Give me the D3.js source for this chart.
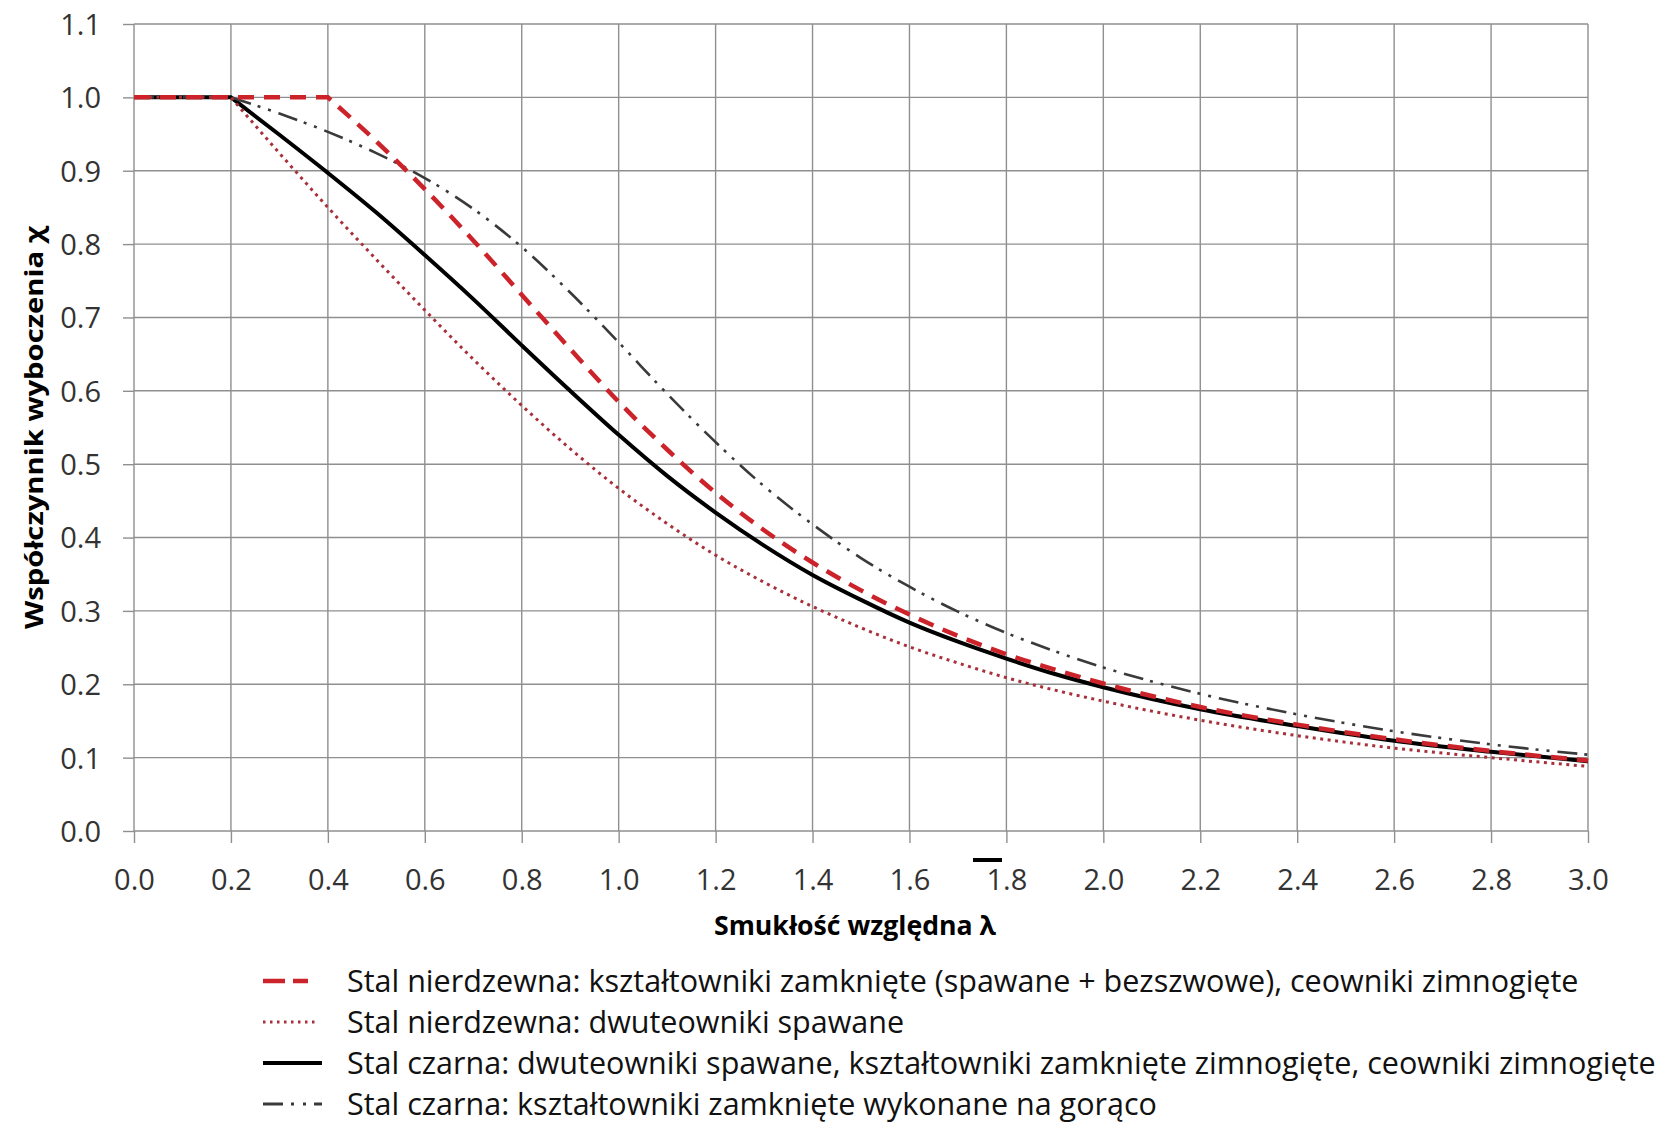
<!DOCTYPE html>
<html>
<head>
<meta charset="utf-8">
<script src="https://cdn.jsdelivr.net/npm/d3@7"></script>
<style>
  body { margin: 0; background: #fff; }
  svg { display: block; }
  text { font-family: "Open Sans", Lato, sans-serif; }
</style>
</head>
<body>
<div id="container"></div>
<script>
/* DATA */
// relative slenderness λ
const lambdaVals = [0, 0.2, 0.3, 0.4, 0.5, 0.6, 0.7, 0.8, 0.9, 1.0, 1.1, 1.2, 1.3, 1.4, 1.5,
  1.6, 1.7, 1.8, 1.9, 2.0, 2.2, 2.4, 2.6, 2.8, 3.0];

// buckling factor χ for each series
const stainlessClosed = [1, 1, 1, 1, 0.940, 0.875, 0.805, 0.731, 0.657, 0.585, 0.520, 0.461, 0.410,
  0.366, 0.328, 0.295, 0.266, 0.241, 0.220, 0.201, 0.169, 0.145, 0.125, 0.109, 0.096];
const stainlessWeldedI = [1, 1, 0.924, 0.850, 0.779, 0.710, 0.643, 0.580, 0.521, 0.467, 0.419, 0.376,
  0.339, 0.306, 0.277, 0.251, 0.229, 0.209, 0.192, 0.177, 0.151, 0.130, 0.113, 0.100, 0.088];
const carbonWelded = [1, 1, 0.949, 0.897, 0.843, 0.785, 0.725, 0.662, 0.600, 0.540, 0.484, 0.434,
  0.389, 0.349, 0.315, 0.284, 0.258, 0.235, 0.214, 0.196, 0.166, 0.143, 0.123, 0.108, 0.095];
const carbonHotFinished = [1, 1, 0.978, 0.953, 0.924, 0.890, 0.848, 0.796, 0.734, 0.666, 0.596, 0.530,
  0.470, 0.418, 0.372, 0.333, 0.299, 0.270, 0.245, 0.223, 0.187, 0.159, 0.136, 0.118, 0.104];

const legendLabels = [
  "Stal nierdzewna: kształtowniki zamknięte (spawane + bezszwowe), ceowniki zimnogięte",
  "Stal nierdzewna: dwuteowniki spawane",
  "Stal czarna: dwuteowniki spawane, kształtowniki zamknięte zimnogięte, ceowniki zimnogięte",
  "Stal czarna: kształtowniki zamknięte wykonane na gorąco"
];

const xTicks = [0, 0.2, 0.4, 0.6, 0.8, 1.0, 1.2, 1.4, 1.6, 1.8, 2.0, 2.2, 2.4, 2.6, 2.8, 3.0];
const yTicks = [0, 0.1, 0.2, 0.3, 0.4, 0.5, 0.6, 0.7, 0.8, 0.9, 1.0, 1.1];

/* CONSTANTS */
const width = 1656, height = 1124;
const margin = { top: 24, left: 134, right: 68, bottom: 293 };
const gridColor = "#8f8f8f";

/* SCALES */
const xScale = d3.scaleLinear()
  .domain([0, 3])
  .range([margin.left, width - margin.right]);

const yScale = d3.scaleLinear()
  .domain([0, 1.1])
  .range([height - margin.bottom, margin.top]);

const svg = d3.select("#container")
  .append("svg")
  .attr("width", width)
  .attr("height", height);

// grid ---------------------
svg.append("g")
  .selectAll("line")
  .data(xTicks)
  .join("line")
  .attr("x1", d => xScale(d)).attr("x2", d => xScale(d))
  .attr("y1", yScale(1.1)).attr("y2", yScale(0))
  .attr("stroke", gridColor).attr("stroke-width", 1.4);

svg.append("g")
  .selectAll("line")
  .data(yTicks)
  .join("line")
  .attr("x1", xScale(0)).attr("x2", xScale(3))
  .attr("y1", d => yScale(d)).attr("y2", d => yScale(d))
  .attr("stroke", gridColor).attr("stroke-width", 1.4);

// axes ---------------------
const xAxis = d3.axisBottom(xScale)
  .tickValues(xTicks)
  .tickFormat(d3.format(".1f"))
  .tickSize(12);

const gx = svg.append("g")
  .attr("transform", `translate(0,${yScale(0)})`)
  .call(xAxis);
gx.select(".domain").remove();
gx.selectAll(".tick line").attr("stroke", gridColor).attr("stroke-width", 1.4);
gx.selectAll(".tick text")
  .attr("y", 59).attr("dy", 0)
  .attr("font-size", 29).attr("fill", "#333");

const yAxis = d3.axisLeft(yScale)
  .tickValues(yTicks)
  .tickFormat(d3.format(".1f"))
  .tickSize(11);

const gy = svg.append("g")
  .attr("transform", `translate(${xScale(0)},0)`)
  .call(yAxis);
gy.select(".domain").remove();
gy.selectAll(".tick line").attr("stroke", gridColor).attr("stroke-width", 1.4);
gy.selectAll(".tick text")
  .attr("x", -33).attr("dy", "0.36em")
  .attr("font-size", 29).attr("fill", "#333");

// axis titles
svg.append("text")
  .attr("x", 855).attr("y", 935)
  .attr("text-anchor", "middle")
  .attr("font-size", 27).attr("font-weight", "bold")
  .attr("textLength", 282).attr("lengthAdjust", "spacingAndGlyphs")
  .text("Smukłość względna λ");

// overline mark above 1.8 (stray bar of λ̄)
svg.append("line")
  .attr("x1", 973).attr("x2", 1002)
  .attr("y1", 860).attr("y2", 860)
  .attr("stroke", "#000").attr("stroke-width", 4);

svg.append("text")
  .attr("transform", `translate(43,${(yScale(0) + yScale(1.1)) / 2}) rotate(-90)`)
  .attr("text-anchor", "middle")
  .attr("font-size", 25).attr("font-weight", "bold")
  .attr("textLength", 403).attr("lengthAdjust", "spacingAndGlyphs")
  .text("Współczynnik wyboczenia χ");

/* SERIES */
const series = [
  { name: legendLabels[2], values: carbonWelded, color: "#000", width: 4, dash: null },
  { name: legendLabels[3], values: carbonHotFinished, color: "#3a3a3a", width: 2.6, dash: "20,7,3,8,3,8" },
  { name: legendLabels[1], values: stainlessWeldedI, color: "#a8303a", width: 3, dash: "3,4.5" },
  { name: legendLabels[0], values: stainlessClosed, color: "#cc2229", width: 4.5, dash: "16,10" }
];

const line = d3.line()
  .x(d => xScale(d[0]))
  .y(d => yScale(d[1]))
  .curve(d3.curveMonotoneX);

// flat part to the kink straight, then a smooth descent
function pathFor(values) {
  const pts = lambdaVals.map((l, i) => [l, values[i]]);
  let k = 0;
  while (k + 1 < pts.length && pts[k + 1][1] >= 1) k++;
  const descent = line(pts.slice(k));
  return `M${xScale(pts[0][0])},${yScale(pts[0][1])}L` + descent.slice(1);
}

svg.append("g")
  .selectAll("path")
  .data(series)
  .join("path")
  .attr("d", d => pathFor(d.values))
  .attr("fill", "none")
  .attr("stroke", d => d.color)
  .attr("stroke-width", d => d.width)
  .attr("stroke-dasharray", d => d.dash);

/* LEGEND */
const legendRows = [
  { label: legendLabels[0], color: "#cc2229", width: 4.5, dash: "22,8", len: 45 },
  { label: legendLabels[1], color: "#a8303a", width: 3, dash: "2.5,4.5", len: 55 },
  { label: legendLabels[2], color: "#000", width: 4, dash: null, len: 59 },
  { label: legendLabels[3], color: "#3a3a3a", width: 3, dash: "20,8,3,9,3,8,10", len: 59 }
];
const legendBaseline = [992, 1033, 1074, 1115];

const legend = svg.append("g")
  .selectAll("g")
  .data(legendRows)
  .join("g")
  .attr("transform", (d, i) => `translate(263,${legendBaseline[i]})`);

legend.append("line")
  .attr("x1", 0).attr("x2", d => d.len)
  .attr("y1", -11).attr("y2", -11)
  .attr("stroke", d => d.color)
  .attr("stroke-width", d => d.width)
  .attr("stroke-dasharray", d => d.dash);

legend.append("text")
  .attr("x", 84).attr("y", 0)
  .attr("font-size", 30.5).attr("fill", "#111")
  .text(d => d.label);
</script>
</body>
</html>
